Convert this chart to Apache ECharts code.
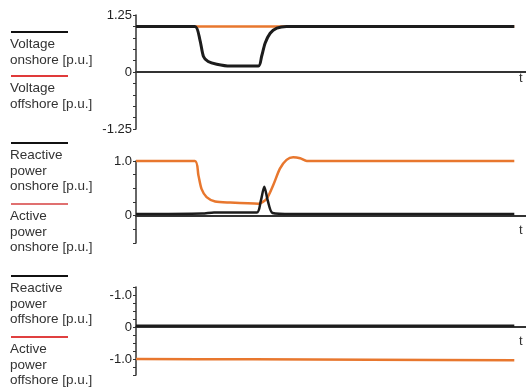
<!DOCTYPE html>
<html>
<head>
<meta charset="utf-8">
<script src="https://cdn.jsdelivr.net/npm/echarts@6/dist/echarts.min.js"></script>
<style>
  html, body { margin: 0; padding: 0; background: #fff; }
  #chart { width: 526px; height: 387px; }
</style>
</head>
<body>
<div id="chart"></div>
<script>
// time axis runs 0..100 (arbitrary units, no labels in the source)
const T_END = 97;

// panel 1: voltages [p.u.]
const voltageOnshore = [
  [0, 1.0], [15.1, 1.0], [16.4, 0.70], [17.3, 0.34], [18.5, 0.23], [20.7, 0.17],
  [24.1, 0.13], [31.4, 0.13], [32.2, 0.34], [33.1, 0.63], [34.4, 0.85],
  [36.1, 0.96], [38.6, 1.0], [T_END, 1.0]
];
const voltageOffshore = [[0, 1.0], [T_END, 1.0]];

// panel 2: onshore powers [p.u.]
const activeOnshore = [
  [0, 1.0], [15.1, 1.0], [16.0, 0.74], [16.8, 0.49], [18.1, 0.34], [20.3, 0.26],
  [24.1, 0.24], [31.4, 0.22], [33.5, 0.31], [35.2, 0.56], [36.9, 0.86],
  [38.6, 1.02], [40.3, 1.07], [42.1, 1.05], [43.8, 1.0], [T_END, 1.0]
];
const reactiveOnshore = [
  [0, 0.03], [17, 0.04], [20, 0.06], [31.0, 0.06], [32.0, 0.27], [32.9, 0.53],
  [33.8, 0.27], [35.0, 0.05], [40, 0.03], [T_END, 0.03]
];

// panel 3: offshore powers [p.u.]
const reactiveOffshore = [[0, 0.04], [T_END, 0.04]];
const activeOffshore = [[0, -1.0], [30, -1.01], [60, -1.02], [T_END, -1.04]];

// y tick labels (the source prints "-1.0" at the top of panel 3)
const ticks1 = { '1.25': '1.25', '0': '0', '-1.25': '-1.25' };
const ticks2 = { '1': '1.0', '0': '0' };
const ticks3 = { '1': '-1.0', '0': '0', '-1': '-1.0' };

const BLACK = '#1c1c1c';
const ORANGE = '#e8772e';
const FONT = '"Liberation Sans", Arial, sans-serif';

const chart = echarts.init(document.getElementById('chart'));

const grids = [
  { left: 136, right: 0, top: 15, height: 114 },
  { left: 136, right: 0, top: 161, height: 82 },
  { left: 136, right: 0, top: 287, height: 88 }
];

const xAxis = grids.map((g, i) => ({
  type: 'value', gridIndex: i, min: 0, max: 100,
  axisLine: { show: true, onZero: true, lineStyle: { color: '#333', width: 2 } },
  axisTick: { show: false }, axisLabel: { show: false }, splitLine: { show: false }
}));

const yAxisDef = (i, min, max, labels) => ({
  type: 'value', gridIndex: i, min, max, interval: 0.25,
  axisLine: { show: true, lineStyle: { color: '#333', width: 1.5 } },
  axisTick: { show: true, length: 3, lineStyle: { color: '#333' } },
  splitLine: { show: false },
  axisLabel: {
    margin: 4, color: '#222', fontSize: 13, fontFamily: FONT,
    formatter: (v) => labels[String(Math.round(v * 100) / 100)] || ''
  }
});

const lineSeries = (i, data, color, width) => ({
  type: 'line', xAxisIndex: i, yAxisIndex: i, data,
  showSymbol: false, smooth: 0.25, clip: false,
  lineStyle: { color, width }
});

// legend-like labels on the left
const legendItems = [
  { y: 32, color: '#111', text: 'Voltage\nonshore [p.u.]' },
  { y: 76, color: '#e03a3a', text: 'Voltage\noffshore [p.u.]' },
  { y: 143, color: '#111', text: 'Reactive\npower\nonshore [p.u.]' },
  { y: 204, color: '#e07070', text: 'Active\npower\nonshore [p.u.]' },
  { y: 276, color: '#111', text: 'Reactive\npower\noffshore [p.u.]' },
  { y: 337, color: '#e04040', text: 'Active\npower\noffshore [p.u.]' }
];
const graphic = [];
legendItems.forEach((it) => {
  graphic.push({
    type: 'line', shape: { x1: 11, y1: it.y, x2: 68, y2: it.y },
    style: { stroke: it.color, lineWidth: 2 }
  });
  graphic.push({
    type: 'text', x: 10, y: it.y + 5,
    style: { text: it.text, fill: '#333', font: '13.5px ' + FONT, lineHeight: 15.5 }
  });
});
// "t" at the end of each time axis
[80, 232, 343].forEach((y) => {
  graphic.push({
    type: 'text', x: 519, y: y - 8,
    style: { text: 't', fill: '#333', font: '13px ' + FONT }
  });
});

chart.setOption({
  animation: false,
  backgroundColor: '#fff',
  grid: grids,
  xAxis,
  yAxis: [
    yAxisDef(0, -1.25, 1.25, ticks1),
    yAxisDef(1, -0.5, 1.0, ticks2),
    yAxisDef(2, -1.5, 1.25, ticks3)
  ],
  series: [
    lineSeries(0, voltageOffshore, ORANGE, 2.5),
    lineSeries(0, voltageOnshore, BLACK, 3),
    lineSeries(1, activeOnshore, ORANGE, 2.5),
    lineSeries(1, reactiveOnshore, BLACK, 2.5),
    lineSeries(2, reactiveOffshore, BLACK, 2.5),
    lineSeries(2, activeOffshore, ORANGE, 2.5)
  ],
  graphic
});
</script>
</body>
</html>
